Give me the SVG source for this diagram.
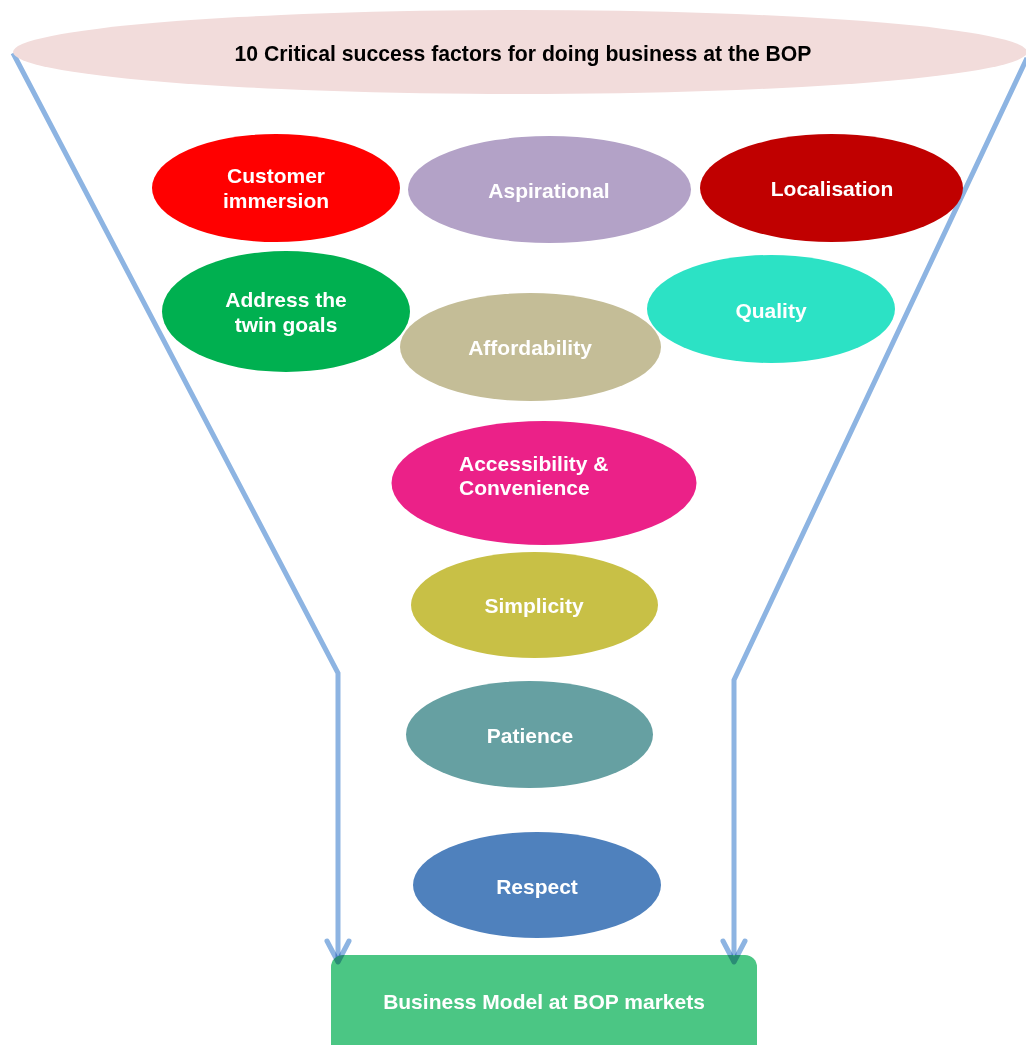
<svg xmlns="http://www.w3.org/2000/svg" width="1026" height="1045" viewBox="0 0 1026 1045">
<style>
.lbl{font-family:"Liberation Sans",Arial,sans-serif;font-weight:bold;font-size:21px;fill:#FFFFFF;text-anchor:middle}
.title{font-family:"Liberation Sans",Arial,sans-serif;font-weight:bold;font-size:21.2px;fill:#000000;text-anchor:middle}
.conn{fill:none;stroke:#8DB4E2;stroke-width:5;stroke-linejoin:miter}
.head{fill:none;stroke:#8DB4E2;stroke-width:5;stroke-linecap:round;stroke-linejoin:round}
</style>
<rect width="1026" height="1045" fill="#FFFFFF"/>
<g id="connectors">
<path class="conn" d="M13,53 L338,673 L338,960"/>
<path class="conn" d="M1027,58 L734,680 L734,960"/>
</g>
<g id="title">
<ellipse cx="520" cy="52" rx="507" ry="42" fill="#F2DCDB"/>
<text class="title" x="523" y="61">10 Critical success factors for doing business at the BOP</text>
</g>
<g id="customer-immersion">
<ellipse cx="276" cy="188" rx="124" ry="54" fill="#FF0000"/>
<text class="lbl" x="276" y="183">Customer</text>
<text class="lbl" x="276" y="208">immersion</text>
</g>
<g id="aspirational">
<ellipse cx="549.5" cy="189.5" rx="141.5" ry="53.5" fill="#B3A2C7"/>
<text class="lbl" x="549" y="198">Aspirational</text>
</g>
<g id="localisation">
<ellipse cx="831.5" cy="188" rx="131.5" ry="54" fill="#C00000"/>
<text class="lbl" x="832" y="196">Localisation</text>
</g>
<g id="address-twin-goals">
<ellipse cx="286" cy="311.5" rx="124" ry="60.5" fill="#00B050"/>
<text class="lbl" x="286" y="307">Address the</text>
<text class="lbl" x="286" y="332">twin goals</text>
</g>
<g id="affordability">
<ellipse cx="530.5" cy="347" rx="130.5" ry="54" fill="#C4BD97"/>
<text class="lbl" x="530" y="355">Affordability</text>
</g>
<g id="quality">
<ellipse cx="771" cy="309" rx="124" ry="54" fill="#2CE2C5"/>
<text class="lbl" x="771" y="318">Quality</text>
</g>
<g id="accessibility-convenience">
<ellipse cx="544" cy="483" rx="152.5" ry="62" fill="#EB2188"/>
<text class="lbl" x="459" y="471" style="text-anchor:start">Accessibility &amp;</text>
<text class="lbl" x="459" y="495" style="text-anchor:start">Convenience</text>
</g>
<g id="simplicity">
<ellipse cx="534.5" cy="605" rx="123.5" ry="53" fill="#C8C046"/>
<text class="lbl" x="534" y="613">Simplicity</text>
</g>
<g id="patience">
<ellipse cx="529.5" cy="734.5" rx="123.5" ry="53.5" fill="#66A0A2"/>
<text class="lbl" x="530" y="743">Patience</text>
</g>
<g id="respect">
<ellipse cx="537" cy="885" rx="124" ry="53" fill="#4F81BD"/>
<text class="lbl" x="537" y="894">Respect</text>
</g>
<g id="business-model">
<rect x="331" y="955" width="426" height="110" rx="12" ry="12" fill="#4BC684"/>
<text class="lbl" x="544" y="1009">Business Model at BOP markets</text>
</g>
<g id="arrowheads" style="mix-blend-mode:multiply">
<path class="head" d="M327,941 L338,962 L349,941"/>
<path class="head" d="M723,941 L734,962 L745,941"/>
</g>
</svg>
